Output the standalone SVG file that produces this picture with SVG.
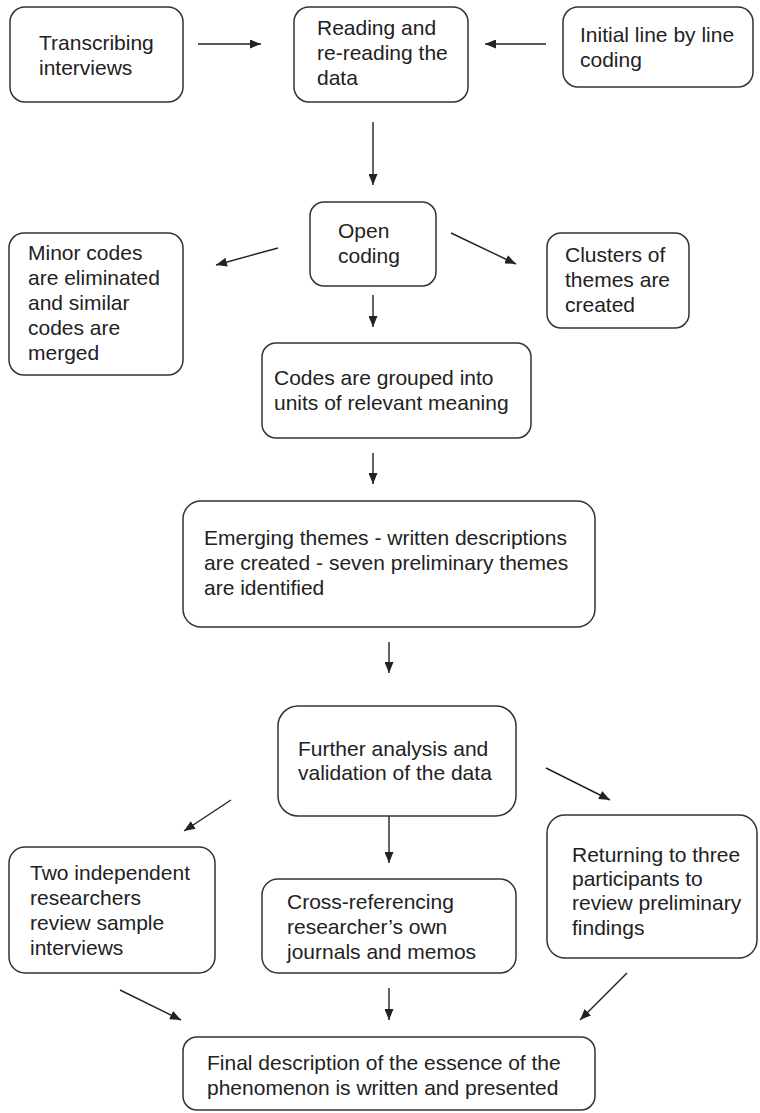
<svg xmlns="http://www.w3.org/2000/svg" width="760" height="1113" viewBox="0 0 760 1113">
<style>
.box{fill:#fff;stroke:#333;stroke-width:1.5}
.t{font-family:"Liberation Sans",Arial,sans-serif;font-size:21px;fill:#222}
.c{stroke:#222;stroke-width:1.4;fill:none;marker-end:url(#ah)}
</style>
<defs>
<marker id="ah" markerUnits="userSpaceOnUse" markerWidth="11" markerHeight="9" refX="11" refY="4.5" orient="auto">
<path d="M0,0 L11,4.5 L0,9 z" fill="#222"/>
</marker>
</defs>
<rect width="760" height="1113" fill="#fff"/>
<g id="connectors">
<line class="c" x1="198" y1="44" x2="261" y2="44"/>
<line class="c" x1="546" y1="44" x2="485" y2="44"/>
<line class="c" x1="373" y1="122" x2="373" y2="185"/>
<line class="c" x1="278" y1="248" x2="216" y2="265"/>
<line class="c" x1="451" y1="233" x2="516" y2="264"/>
<line class="c" x1="373" y1="295" x2="373" y2="327"/>
<line class="c" x1="373" y1="453" x2="373" y2="484"/>
<line class="c" x1="389" y1="642" x2="389" y2="673"/>
<line class="c" x1="231" y1="800" x2="184" y2="831"/>
<line class="c" x1="546" y1="768" x2="610" y2="800"/>
<line class="c" x1="389" y1="816" x2="389" y2="863"/>
<line class="c" x1="120" y1="990" x2="181" y2="1020"/>
<line class="c" x1="389" y1="988" x2="389" y2="1020"/>
<line class="c" x1="627" y1="973" x2="580" y2="1020"/>
</g>
<g id="transcribing">
<rect class="box" x="10" y="7" width="173" height="95" rx="15"/>
<text class="t" x="39" y="50">Transcribing</text>
<text class="t" x="39" y="75">interviews</text>
</g>
<g id="reading">
<rect class="box" x="294" y="7" width="174" height="95" rx="15"/>
<text class="t" x="317" y="35">Reading and</text>
<text class="t" x="317" y="60">re-reading the</text>
<text class="t" x="317" y="85">data</text>
</g>
<g id="initial">
<rect class="box" x="563" y="7" width="190" height="80" rx="15"/>
<text class="t" x="580" y="42">Initial line by line</text>
<text class="t" x="580" y="67">coding</text>
</g>
<g id="open">
<rect class="box" x="310" y="202" width="126" height="84" rx="14"/>
<text class="t" x="338" y="238">Open</text>
<text class="t" x="338" y="263">coding</text>
</g>
<g id="minor">
<rect class="box" x="9" y="233" width="174" height="142" rx="15"/>
<text class="t" x="28" y="260">Minor codes</text>
<text class="t" x="28" y="285">are eliminated</text>
<text class="t" x="28" y="310">and similar</text>
<text class="t" x="28" y="335">codes are</text>
<text class="t" x="28" y="360">merged</text>
</g>
<g id="clusters">
<rect class="box" x="547" y="233" width="142" height="95" rx="14"/>
<text class="t" x="565" y="262">Clusters of</text>
<text class="t" x="565" y="287">themes are</text>
<text class="t" x="565" y="312">created</text>
</g>
<g id="codes">
<rect class="box" x="262" y="343" width="269" height="95" rx="14"/>
<text class="t" x="274" y="385">Codes are grouped into</text>
<text class="t" x="274" y="410">units of relevant meaning</text>
</g>
<g id="emerging">
<rect class="box" x="183" y="501" width="412" height="126" rx="18"/>
<text class="t" x="204" y="545">Emerging themes - written descriptions</text>
<text class="t" x="204" y="570">are created - seven preliminary themes</text>
<text class="t" x="204" y="595">are identified</text>
</g>
<g id="further">
<rect class="box" x="278" y="706" width="238" height="110" rx="20"/>
<text class="t" x="298" y="756">Further analysis and</text>
<text class="t" x="298" y="780">validation of the data</text>
</g>
<g id="two">
<rect class="box" x="9" y="847" width="206" height="126" rx="16"/>
<text class="t" x="30" y="880">Two independent</text>
<text class="t" x="30" y="905">researchers</text>
<text class="t" x="30" y="930">review sample</text>
<text class="t" x="30" y="955">interviews</text>
</g>
<g id="cross">
<rect class="box" x="262" y="879" width="254" height="94" rx="16"/>
<text class="t" x="287" y="909">Cross-referencing</text>
<text class="t" x="287" y="934">researcher’s own</text>
<text class="t" x="287" y="959">journals and memos</text>
</g>
<g id="returning">
<rect class="box" x="547" y="815" width="210" height="143" rx="18"/>
<text class="t" x="572" y="862">Returning to three</text>
<text class="t" x="572" y="886">participants to</text>
<text class="t" x="572" y="910">review preliminary</text>
<text class="t" x="572" y="935">findings</text>
</g>
<g id="final">
<rect class="box" x="183" y="1037" width="412" height="73" rx="14"/>
<text class="t" x="207" y="1070">Final description of the essence of the</text>
<text class="t" x="207" y="1095">phenomenon is written and presented</text>
</g>
</svg>
